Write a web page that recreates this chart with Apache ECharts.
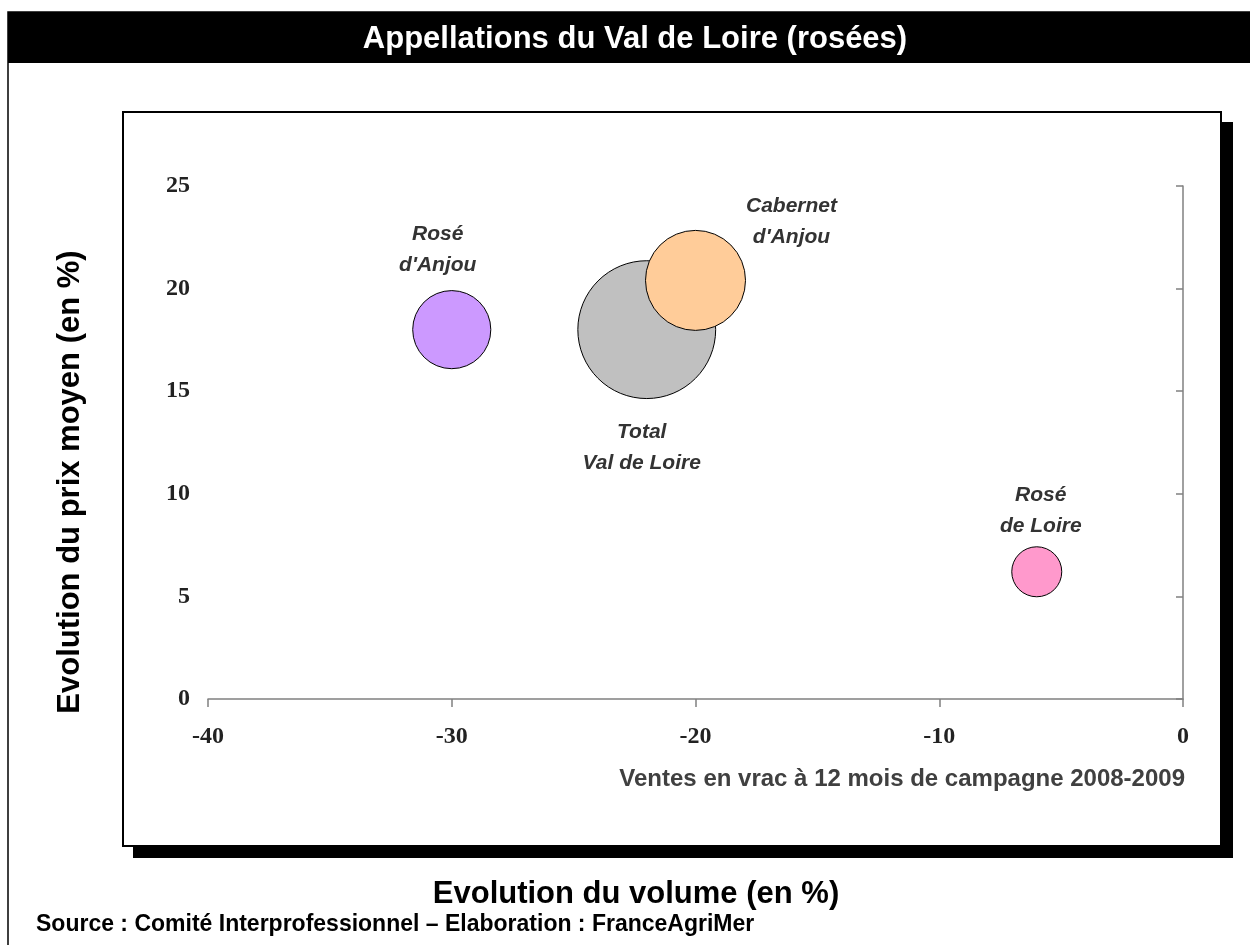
<!DOCTYPE html>
<html>
<head>
<meta charset="utf-8">
<script src="https://cdn.jsdelivr.net/npm/echarts@6/dist/echarts.min.js"></script>
<style>
  html, body { margin: 0; padding: 0; background: #fff; }
  #chart { width: 1250px; height: 945px; }
</style>
</head>
<body>
<div id="chart"></div>
<script>
// Appellations (two-line names), volume change %, average price change %, sales volume (relative)
const appellations = ["Total\nVal de Loire", "Cabernet\nd'Anjou", "Rosé\nd'Anjou", "Rosé\nde Loire"];
const volumeChange = [-22, -20, -30, -6];
const priceChange = [18.0, 20.4, 18.0, 6.2];
const salesVolume = [190, 100, 61, 25];

const xTicks = [-40, -30, -20, -10, 0];
const yTicks = [0, 5, 10, 15, 20, 25];

const bubbleColors = ["#C0C0C0", "#FFCC99", "#CC99FF", "#FF99CC"];
// label offset from bubble centre, in px
const labelOffsets = [[-5, 118], [96, -59], [-14, -80], [4, -61]];

const chart = echarts.init(document.getElementById('chart'));

const data = appellations.map((name, i) => ({
  name: name,
  value: [volumeChange[i], priceChange[i], salesVolume[i]],
  itemStyle: { color: bubbleColors[i] },
  label: { offset: labelOffsets[i] }
}));

const sansBold = { fontFamily: 'Liberation Sans, Arial, sans-serif', fontWeight: 'bold' };
const serifTick = { color: '#222', fontSize: 24, fontWeight: 'bold', fontFamily: 'Liberation Serif, Times New Roman, serif' };

chart.setOption({
  animation: false,
  grid: { left: 208, right: 67, top: 186, bottom: 246 },
  xAxis: {
    type: 'value', min: xTicks[0], max: xTicks[xTicks.length - 1], interval: 10,
    splitLine: { show: false },
    axisLine: { show: true, onZero: false, lineStyle: { color: '#808080', width: 1.5 } },
    axisTick: { show: true, length: 8, lineStyle: { color: '#808080', width: 1.5 } },
    axisLabel: { margin: 26, ...serifTick }
  },
  yAxis: [{
    type: 'value', position: 'left', min: yTicks[0], max: yTicks[yTicks.length - 1], interval: 5,
    splitLine: { show: false },
    axisLine: { show: false }, axisTick: { show: false },
    axisLabel: { margin: 18, ...serifTick }
  }, {
    type: 'value', position: 'right', min: yTicks[0], max: yTicks[yTicks.length - 1], interval: 5,
    splitLine: { show: false },
    axisLine: { show: true, onZero: false, lineStyle: { color: '#808080', width: 1.5 } },
    axisTick: { show: true, inside: true, length: 7, lineStyle: { color: '#808080', width: 1.5 } },
    axisLabel: { show: false }
  }],
  series: [{
    type: 'scatter',
    data: data,
    symbolSize: v => 10 * Math.sqrt(v[2]),
    itemStyle: { borderColor: '#000', borderWidth: 1, opacity: 1 },
    label: {
      show: true, position: 'inside', formatter: p => p.name,
      color: '#333', fontSize: 21, fontStyle: 'italic', lineHeight: 31, align: 'center',
      ...sansBold
    },
    emphasis: { disabled: true }
  }],
  graphic: [
    // outer frame
    { type: 'rect', z: -10, shape: { x: 8, y: 12, width: 1260, height: 950 }, style: { fill: '#fff', stroke: '#000', lineWidth: 1.5 } },
    // title band
    { type: 'rect', z: -9, shape: { x: 8, y: 12, width: 1260, height: 51 }, style: { fill: '#000' } },
    { type: 'text', z: 5, x: 635, y: 39, style: { text: 'Appellations du Val de Loire (rosées)', fill: '#fff', fontSize: 31, align: 'center', verticalAlign: 'middle', ...sansBold } },
    // plot box with drop shadow
    { type: 'rect', z: -8, shape: { x: 133, y: 122, width: 1100, height: 736 }, style: { fill: '#000' } },
    { type: 'rect', z: -7, shape: { x: 123, y: 112, width: 1098, height: 734 }, style: { fill: '#fff', stroke: '#000', lineWidth: 2 } },
    // texts
    { type: 'text', z: 5, x: 1185, y: 779, style: { text: 'Ventes en vrac à 12 mois de campagne 2008-2009', fill: '#404040', fontSize: 24, align: 'right', verticalAlign: 'middle', ...sansBold } },
    { type: 'text', z: 5, x: 636, y: 894, style: { text: 'Evolution du volume (en %)', fill: '#000', fontSize: 31, align: 'center', verticalAlign: 'middle', ...sansBold } },
    { type: 'text', z: 5, x: 70, y: 482, rotation: Math.PI / 2, style: { text: 'Evolution du prix moyen (en %)', fill: '#000', fontSize: 31, align: 'center', verticalAlign: 'middle', ...sansBold } },
    { type: 'text', z: 5, x: 36, y: 925, style: { text: 'Source : Comité Interprofessionnel – Elaboration : FranceAgriMer', fill: '#000', fontSize: 23, align: 'left', verticalAlign: 'middle', ...sansBold } }
  ]
});
</script>
</body>
</html>
